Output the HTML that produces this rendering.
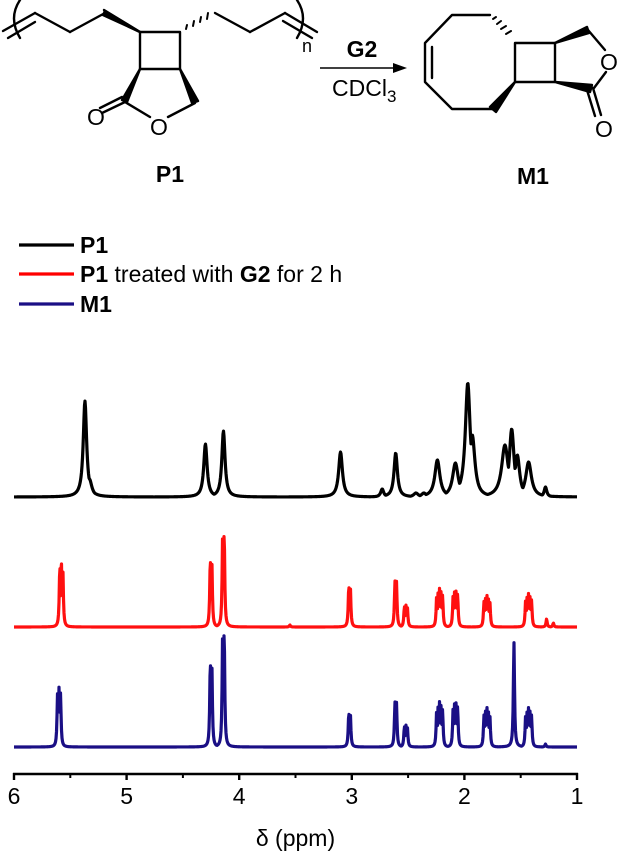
<!DOCTYPE html>
<html><head><meta charset="utf-8">
<style>
html,body{margin:0;padding:0;background:#fff;}
body{width:622px;height:857px;overflow:hidden;font-family:"Liberation Sans",Arial,sans-serif;}
svg text{font-family:"Liberation Sans",Arial,sans-serif;}
</style></head>
<body>
<svg id="fig" width="622" height="857" viewBox="0 0 622 857" xmlns="http://www.w3.org/2000/svg">
  <!-- P1 structure -->
  <g stroke="#000" stroke-width="2.4" fill="none" stroke-linecap="round" stroke-linejoin="round">
    <path d="M20,0 Q8,18 20,38" />
    <line x1="3" y1="31" x2="35" y2="13"/>
    <line x1="8" y1="38" x2="35" y2="22"/>
    <line x1="35" y1="13" x2="70" y2="32"/>
    <line x1="70" y1="32" x2="105" y2="13"/>
    <polygon points="105,11 103,15 140,32" fill="#000"/>
    <polygon points="104,10 107,16 140,32" fill="#000"/>
    <rect x="140" y="32" width="40" height="37"/>
    <g stroke-width="2">
      <line x1="186" y1="29" x2="187" y2="25"/>
      <line x1="193" y1="26" x2="194" y2="21"/>
      <line x1="200" y1="22" x2="201" y2="17"/>
      <line x1="207" y1="19" x2="208" y2="13"/>
    </g>
    <line x1="215" y1="13" x2="250" y2="32"/>
    <line x1="250" y1="32" x2="285" y2="13"/>
    <line x1="285" y1="13" x2="317" y2="32"/>
    <line x1="283" y1="21" x2="312" y2="38"/>
    <path d="M297,0 Q309,18 297,38" />
    <polygon points="140,69 127,102 122,100" fill="#000"/>
    <polygon points="180,69 192,103 198,101" fill="#000"/>
    <line x1="125" y1="102" x2="102" y2="113"/>
    <line x1="122" y1="97" x2="100" y2="108"/>
    <line x1="125" y1="102" x2="150" y2="117"/>
    <line x1="168" y1="117" x2="195" y2="103"/>
  </g>
  <text x="87" y="125" font-size="23">O</text>
  <text x="150" y="135" font-size="23">O</text>
  <text x="302" y="52" font-size="18">n</text>
  <text x="170" y="182" font-size="23" font-weight="bold" text-anchor="middle">P1</text>

  <!-- Reaction arrow -->
  <g>
    <line x1="320" y1="68" x2="400" y2="68" stroke="#000" stroke-width="1.6"/>
    <polygon points="407,68 393,63 393,73" fill="#000"/>
  </g>
  <text x="362" y="57" font-size="23" font-weight="bold" text-anchor="middle">G2</text>
  <text x="332" y="96" font-size="23">CDCl<tspan font-size="17" dy="6">3</tspan></text>

  <!-- M1 structure -->
  <g stroke="#000" stroke-width="2.4" fill="none" stroke-linecap="round" stroke-linejoin="round">
    <polyline points="490,15 452,15 425,43 425,82 452,109 493,109"/>
    <line x1="432" y1="47" x2="432" y2="78"/>
    <rect x="515" y="43" width="40" height="39"/>
    <g stroke-width="2">
      <line x1="493" y1="19" x2="496" y2="17"/>
      <line x1="497" y1="24" x2="501" y2="21"/>
      <line x1="501" y1="29" x2="506" y2="26"/>
      <line x1="506" y1="34" x2="511" y2="31"/>
    </g>
    <polygon points="515,82 490,107 496,112" fill="#000"/>
    <polygon points="555,43 587,27 589,33" fill="#000"/>
    <line x1="588" y1="30" x2="605" y2="50"/>
    <line x1="606" y1="72" x2="594" y2="88"/>
    <polygon points="555,82 592,85 590,92" fill="#000"/>
    <line x1="593" y1="88" x2="601" y2="115"/>
    <line x1="587" y1="90" x2="595" y2="116"/>
  </g>
  <text x="600" y="70" font-size="23">O</text>
  <text x="595" y="137" font-size="23">O</text>
  <text x="533" y="184" font-size="23" font-weight="bold" text-anchor="middle">M1</text>

  <!-- Legend -->
  <g>
    <g>
      <line x1="19" y1="245" x2="74" y2="245" stroke="#000" stroke-width="3.2"/>
      <text x="80" y="253" font-size="23" font-weight="bold">P1</text>
    </g>
    <g>
      <line x1="19" y1="274" x2="74" y2="274" stroke="#ff0000" stroke-width="3.2"/>
      <text x="80" y="282" font-size="23"><tspan font-weight="bold">P1</tspan> treated with <tspan font-weight="bold">G2</tspan> for 2 h</text>
    </g>
    <g>
      <line x1="19" y1="304" x2="74" y2="304" stroke="#1a0f85" stroke-width="3.2"/>
      <text x="80" y="312" font-size="23" font-weight="bold">M1</text>
    </g>
  </g>

  <g id="plot"></g>
</svg>
<script>
// ---- data
const xTicks = [6, 5, 4, 3, 2, 1];
const xMinorTicks = [5.5, 4.5, 3.5, 2.5, 1.5];

const p1Shifts  = [5.37, 5.33, 4.30, 4.14, 3.10, 2.73, 2.61, 2.43, 2.36, 2.24, 2.08, 1.97, 1.93, 1.64, 1.58, 1.53, 1.43, 1.28];
const p1Heights = [96, 18, 53, 66, 45, 8, 44, 4, 4, 37, 34, 114, 62, 52, 68, 42, 35, 10];
const p1Widths  = [0.018, 0.025, 0.018, 0.017, 0.02, 0.016, 0.018, 0.025, 0.025, 0.027, 0.03, 0.026, 0.028, 0.035, 0.025, 0.025, 0.03, 0.014];

const g2Shifts  = [5.58, 4.25, 4.14, 3.55, 3.02, 2.61, 2.52, 2.22, 2.08, 1.80, 1.43, 1.27, 1.21];
const g2Heights = [69, 69, 96, 2, 42, 46, 23, 40, 39, 32, 34, 8, 4];
const g2Mult    = [3, 2, 2, 1, 2, 2, 3, 5, 4, 5, 5, 1, 1];

const m1Shifts  = [5.60, 4.25, 4.14, 3.02, 2.61, 2.52, 2.22, 2.08, 1.80, 1.56, 1.43, 1.28];
const m1Heights = [60, 87, 118, 35, 45, 23, 47, 48, 40, 105, 40, 3];
const m1Mult    = [3, 2, 2, 2, 2, 3, 5, 4, 5, 1, 5, 1];

// ---- axes
const X0 = 14, X1 = 577;
function xScale(ppm){ return X0 + (6 - ppm) * (X1 - X0) / 5; }
const baseBlack = 497, baseRed = 627, baseBlue = 747, axisY = 774;

const NS = "http://www.w3.org/2000/svg";
const plot = document.getElementById('plot');

function lor(x, x0, w){ const d=(x-x0)/w; return 1/(1+d*d); }

function buildPath(shifts, heights, widths, mults, base){
  let d = "";
  for (let px = X0; px <= X1; px += 0.5){
    const ppm = 6 - (px - X0) * 5 / (X1 - X0);
    let y = 0;
    for (let i = 0; i < shifts.length; i++){
      const m = mults ? mults[i] : 1;
      const w = widths ? widths[i] : 0.006;
      const sp = 0.013;
      for (let k = 0; k < m; k++){
        const c = shifts[i] + (k - (m-1)/2) * sp;
        const hk = m > 2 ? heights[i] * (1 - 0.1*Math.abs(k-(m-1)/2)) : heights[i];
        y = Math.max(y, hk * lor(ppm, c, w));
      }
    }
    d += (d ? "L" : "M") + px.toFixed(1) + "," + (base - y).toFixed(2);
  }
  return d;
}

function addSeries(name, d, color){
  const p = document.createElementNS(NS, 'path');
  p.setAttribute('d', d);
  p.setAttribute('fill', 'none');
  p.setAttribute('stroke', color);
  p.setAttribute('stroke-width', '3.2');
  p.setAttribute('stroke-linejoin', 'round');
  
  
  plot.appendChild(p);
}

addSeries('spectrum-p1', buildPath(p1Shifts, p1Heights, p1Widths, null, baseBlack), '#000');
addSeries('spectrum-p1-treated-g2', buildPath(g2Shifts, g2Heights, null, g2Mult, baseRed), '#ff1010');
addSeries('spectrum-m1', buildPath(m1Shifts, m1Heights, null, m1Mult, baseBlue), '#1a0f85');

// axis
const ax = document.createElementNS(NS, 'g');


plot.appendChild(ax);
const axl = document.createElementNS(NS, 'line');
axl.setAttribute('x1', X0 - 1); axl.setAttribute('x2', X1 + 1);
axl.setAttribute('y1', axisY); axl.setAttribute('y2', axisY);
axl.setAttribute('stroke', '#000'); axl.setAttribute('stroke-width', '2.4');


ax.appendChild(axl);
xTicks.forEach(t => {
  const l = document.createElementNS(NS, 'line');
  l.setAttribute('x1', xScale(t)); l.setAttribute('x2', xScale(t));
  l.setAttribute('y1', axisY - 1); l.setAttribute('y2', axisY + 6);
  l.setAttribute('stroke', '#000'); l.setAttribute('stroke-width', '2.4');
  
  
  ax.appendChild(l);
  const tx = document.createElementNS(NS, 'text');
  tx.setAttribute('x', xScale(t)); tx.setAttribute('y', axisY + 30);
  tx.setAttribute('font-size', '23'); tx.setAttribute('text-anchor', 'middle');
  tx.textContent = t;
  
  
  ax.appendChild(tx);
});
xMinorTicks.forEach(t => {
  const l = document.createElementNS(NS, 'line');
  l.setAttribute('x1', xScale(t)); l.setAttribute('x2', xScale(t));
  l.setAttribute('y1', axisY - 1); l.setAttribute('y2', axisY + 4);
  l.setAttribute('stroke', '#000'); l.setAttribute('stroke-width', '2');
  
  
  ax.appendChild(l);
});
const title = document.createElementNS(NS, 'text');
title.setAttribute('x', (X0 + X1) / 2); title.setAttribute('y', 846);
title.setAttribute('font-size', '23'); title.setAttribute('text-anchor', 'middle');
title.textContent = 'δ (ppm)';


ax.appendChild(title);
</script>
</body></html>
